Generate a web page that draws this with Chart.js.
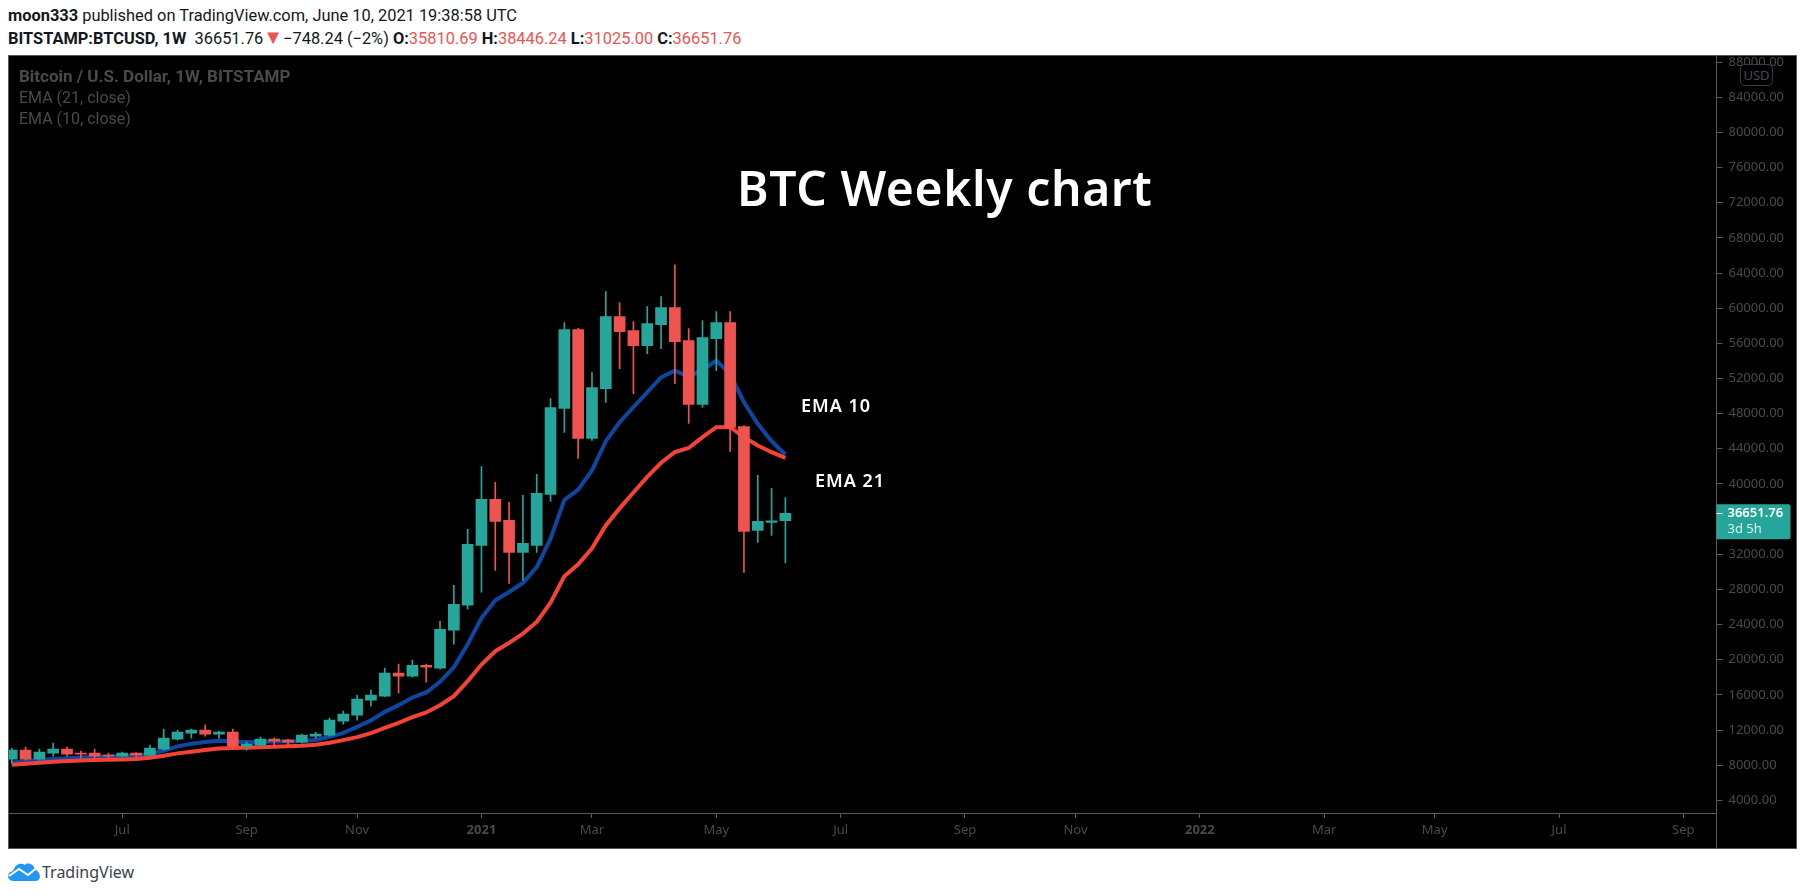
<!DOCTYPE html>
<html>
<head>
<meta charset="utf-8">
<title>BTC Weekly chart</title>
<script src="https://cdn.jsdelivr.net/npm/chart.js@4"></script>
<style>
    html, body { margin: 0; padding: 0; background: #fff; width: 1805px; height: 895px; overflow: hidden; }
    body { font-family: Roboto, sans-serif; color: #131722; }
    .abs { position: absolute; white-space: nowrap; }
    #pane { left: 8px; top: 55px; width: 1789px; height: 794px; background: #000; border: 1px solid #5a5a5a; box-sizing: border-box; }
    #chart { position: absolute; left: 0; top: 0; }
    #divider { left: 1716px; top: 813px; width: 1px; height: 35px; background: #5a5a5a; }
    .head { left: 8px; font-size: 16.4px; }
    .red { color: #ef5350; }
    .dim { color: #4a4a4a; left: 19px; }
    .note { color: #fff; font-family: "Noto Sans", sans-serif; font-weight: 600; }
    #usd { left: 1740px; top: 64px; width: 31px; height: 20px; text-align: center; background: #000; border: 1px solid #363c4e; border-radius: 5px; color: #4a4a4a; font: 13px/20px "Noto Sans", sans-serif; }
</style>
</head>
<body>
<div class="abs head" style="top:6px"><b>moon333</b> published on TradingView.com, June 10, 2021 19:38:58 UTC</div>
<div class="abs head" style="top:29px"><b>BITSTAMP:BTCUSD, 1W</b>&nbsp; 36651.76<span class="red" style="font-size:20px;line-height:16px">▼</span>−748.24 (−2%) <b>O:</b><span class="red">35810.69</span> <b>H:</b><span class="red">38446.24</span> <b>L:</b><span class="red">31025.00</span> <b>C:</b><span class="red">36651.76</span></div>

<div class="abs" id="pane"><canvas id="chart" width="1787" height="792"></canvas></div>
<div class="abs" id="divider"></div>

<div class="abs dim" style="top:66px;font-size:17px;font-weight:700">Bitcoin / U.S. Dollar, 1W, BITSTAMP</div>
<div class="abs dim" style="top:88px;font-size:16px">EMA (21, close)</div>
<div class="abs dim" style="top:109px;font-size:16px">EMA (10, close)</div>
<div class="abs" id="usd">USD</div>

<div class="abs note" style="left:737px;top:155px;font-size:48px;letter-spacing:.6px">BTC Weekly chart</div>
<div class="abs note" style="left:801px;top:393px;font-size:18px;letter-spacing:1px">EMA 10</div>
<div class="abs note" style="left:815px;top:468px;font-size:18px;letter-spacing:1px">EMA 21</div>

<svg class="abs" style="left:8px;top:861px" width="33" height="20" viewBox="0 0 33 20">
    <path d="M5 20 C-1 20 -2 11 5 10 C7 3 13 1 17 4 C20 1 26 3 27 9 C33 10 34 20 27 20 Z" fill="#2196f3"/>
    <path d="M1 15 L11 8 L20 14 L31 5" fill="none" stroke="#fff" stroke-width="2"/>
</svg>
<div class="abs" style="left:42px;top:861px;font:16px 'Noto Sans',sans-serif;color:#3a3f4d">TradingView</div>

<script>
const opens = [8692, 9715, 8692, 9374, 9829, 9374, 9374, 9147, 9033, 9374, 9147, 9829, 10964, 11647, 11988, 11534, 11760, 10171, 10283, 10964,
    10851, 10624, 11306, 11420, 13011, 13692, 15397, 15852, 18465, 18125, 19374, 19033, 23351, 26192, 33011, 38239, 35852, 32216, 33011, 38806,
    48580, 57558, 45171, 50852, 59035, 57444, 55739, 58125, 60057, 56308, 49036, 56534, 58351, 46535, 34716, 35626, 35810.69];
const highs = [9942, 10056, 9829, 10510, 10056, 9602, 9829, 9374, 9488, 9420, 10283, 12102, 11988, 12102, 12555, 11874, 12102, 10624, 11193, 11077,
    10964, 11534, 11760, 13351, 14147, 15965, 16533, 19033, 19488, 19943, 19488, 24374, 28466, 34829, 41987, 40171, 37898, 38692, 41080, 49716,
    58351, 57700, 52671, 61875, 60626, 58466, 60171, 61307, 64944, 57671, 58580, 59603, 59603, 46650, 40966, 39488, 38446.24];
const lows = [8240, 8579, 8579, 9033, 9033, 8806, 8806, 8806, 8990, 8920, 9033, 9715, 10851, 11077, 11306, 11077, 9942, 9715, 10171, 10056,
    10283, 10510, 11077, 11306, 12670, 13124, 14717, 15800, 16192, 18011, 17443, 18920, 21761, 25738, 27671, 30170, 28693, 29034, 32216, 38015,
    45853, 42898, 44943, 49262, 53125, 50284, 54829, 55398, 51421, 46875, 48694, 52898, 43694, 29943, 33354, 34148, 31025];
const closes = [9715, 8692, 9488, 9829, 9261, 9261, 9033, 9033, 9374, 9147, 9942, 11077, 11760, 11988, 11534, 11760, 10171, 10397, 10964, 10738,
    10624, 11420, 11534, 13124, 13806, 15511, 15965, 18465, 18125, 19374, 19147, 23465, 26306, 33125, 38239, 35739, 32216, 33238, 38920, 48694,
    57558, 45171, 50966, 59035, 57330, 55739, 58239, 60057, 56194, 49036, 56648, 58351, 46421, 34602, 35739, 35810, 36651.76];
const ema10 = [8317, 8442, 8579, 8692, 8783, 8874, 8954, 8999, 9033, 9067, 9261, 9635, 10135, 10431, 10624, 10772, 10704, 10624, 10658, 10704,
    10704, 10738, 10851, 11226, 11681, 12363, 13090, 14067, 14827, 15704, 16272, 17477, 19147, 21761, 24749, 26761, 27704, 28727, 30545, 33772,
    38181, 39352, 41534, 44864, 47023, 48728, 50432, 52136, 52898, 52216, 52977, 54034, 52523, 49296, 46841, 44864, 43352];
const ema21 = [8044, 8158, 8271, 8385, 8465, 8522, 8579, 8613, 8658, 8692, 8840, 9067, 9340, 9522, 9715, 9908, 9942, 9976, 10033, 10090,
    10147, 10204, 10318, 10545, 10851, 11193, 11647, 12249, 12817, 13465, 13999, 14827, 15852, 17557, 19455, 20965, 21909, 22977, 24295, 26500,
    29488, 30852, 32670, 35284, 37216, 39027, 40795, 42410, 43613, 44092, 45319, 46456, 46456, 45319, 44376, 43613, 42977];
const tickWeeks = [8, 17, 25, 34, 42, 51, 60, 69, 77, 86, 95, 103, 112, 121];
const tickNames = ['Jul', 'Sep', 'Nov', '2021', 'Mar', 'May', 'Jul', 'Sep', 'Nov', '2022', 'Mar', 'May', 'Jul', 'Sep'];
const priceTicks = [4000, 8000, 12000, 16000, 20000, 24000, 28000, 32000, 36000, 40000, 44000, 48000, 52000, 56000, 60000, 64000, 68000, 72000, 76000, 80000, 84000, 88000];

const green = '#26a69a';
const red = '#ef5350';
const faint = '#4a4a4a';
const axisLine = '#5a5a5a';
const candleColors = closes.map((c, i) => c >= opens[i] ? green : red);
const lastClose = closes[closes.length - 1];

// price label on the axis, sits at the last close
const priceLabel = {
    id: 'priceLabel',
    afterDraw(chart) {
        const c = chart.ctx, y = chart.scales.y.getPixelForValue(lastClose), left = chart.chartArea.right;
        c.save();
        c.fillStyle = green;
        c.beginPath();
        c.roundRect(left, y - 9, 74, 35, [0, 2, 2, 0]);
        c.fill();
        c.fillStyle = '#fff';
        c.fillRect(left, Math.round(y), 6, 1);
        c.font = '600 13px "Noto Sans"';
        c.textBaseline = 'middle';
        c.fillText(lastClose.toFixed(2), left + 11, y);
        c.font = '13px "Noto Sans"';
        c.fillStyle = '#d8efec';
        c.fillText('3d 5h', left + 11, y + 16);
        c.restore();
    }
};

// the pane edges are fixed, no room kept for half labels
const noPadding = axis => {
    axis.paddingTop = axis.paddingBottom = axis.paddingLeft = axis.paddingRight = 0;
};

new Chart(document.getElementById('chart'), {
    type: 'bar',
    data: {
        datasets: [
            {
                label: 'body',
                data: opens.map((o, i) => ({x: i, y: [o, closes[i]]})),
                backgroundColor: candleColors,
                barThickness: 11,
                grouped: false,
                order: 0
            },
            {
                label: 'wick',
                data: lows.map((l, i) => ({x: i, y: [l, highs[i]]})),
                backgroundColor: candleColors,
                barThickness: 1,
                grouped: false,
                order: 1
            },
            {
                type: 'line',
                label: 'EMA 21',
                data: ema21.map((v, i) => ({x: i, y: v})),
                borderColor: '#f44336',
                borderWidth: 4,
                pointRadius: 0,
                order: 2
            },
            {
                type: 'line',
                label: 'EMA 10',
                data: ema10.map((v, i) => ({x: i, y: v})),
                borderColor: '#0d47a1',
                borderWidth: 4,
                pointRadius: 0,
                order: 3
            }
        ]
    },
    options: {
        responsive: false,
        animation: false,
        events: [],
        layout: { padding: 0 },
        plugins: {
            legend: { display: false },
            tooltip: { enabled: false }
        },
        scales: {
            x: {
                type: 'linear',
                offset: false,
                min: -0.2,
                max: 123.4,
                afterBuildTicks: axis => { axis.ticks = tickWeeks.map(v => ({value: v})); },
                afterFit: axis => { axis.height = 35; noPadding(axis); },
                grid: { offset: false, drawOnChartArea: false, tickLength: 5, tickColor: axisLine },
                border: { color: axisLine },
                ticks: {
                    autoSkip: false,
                    maxRotation: 0,
                    padding: 4,
                    color: faint,
                    font: ctx => ({
                        family: '"Noto Sans"',
                        size: 13,
                        weight: ctx.tick && tickNames[tickWeeks.indexOf(ctx.tick.value)].length === 4 ? 'bold' : 'normal'
                    }),
                    callback: v => tickNames[tickWeeks.indexOf(v)]
                }
            },
            y: {
                position: 'right',
                min: 2557,
                max: 88693,
                afterBuildTicks: axis => { axis.ticks = priceTicks.map(v => ({value: v})); },
                afterFit: axis => { axis.width = 79.5; noPadding(axis); },
                grid: { drawOnChartArea: false, tickLength: 6, tickColor: axisLine },
                border: { color: axisLine },
                ticks: {
                    autoSkip: false,
                    padding: 6,
                    color: faint,
                    font: { family: '"Noto Sans"', size: 13 },
                    callback: v => v.toFixed(2)
                }
            }
        }
    },
    plugins: [priceLabel]
});
</script>
</body>
</html>
